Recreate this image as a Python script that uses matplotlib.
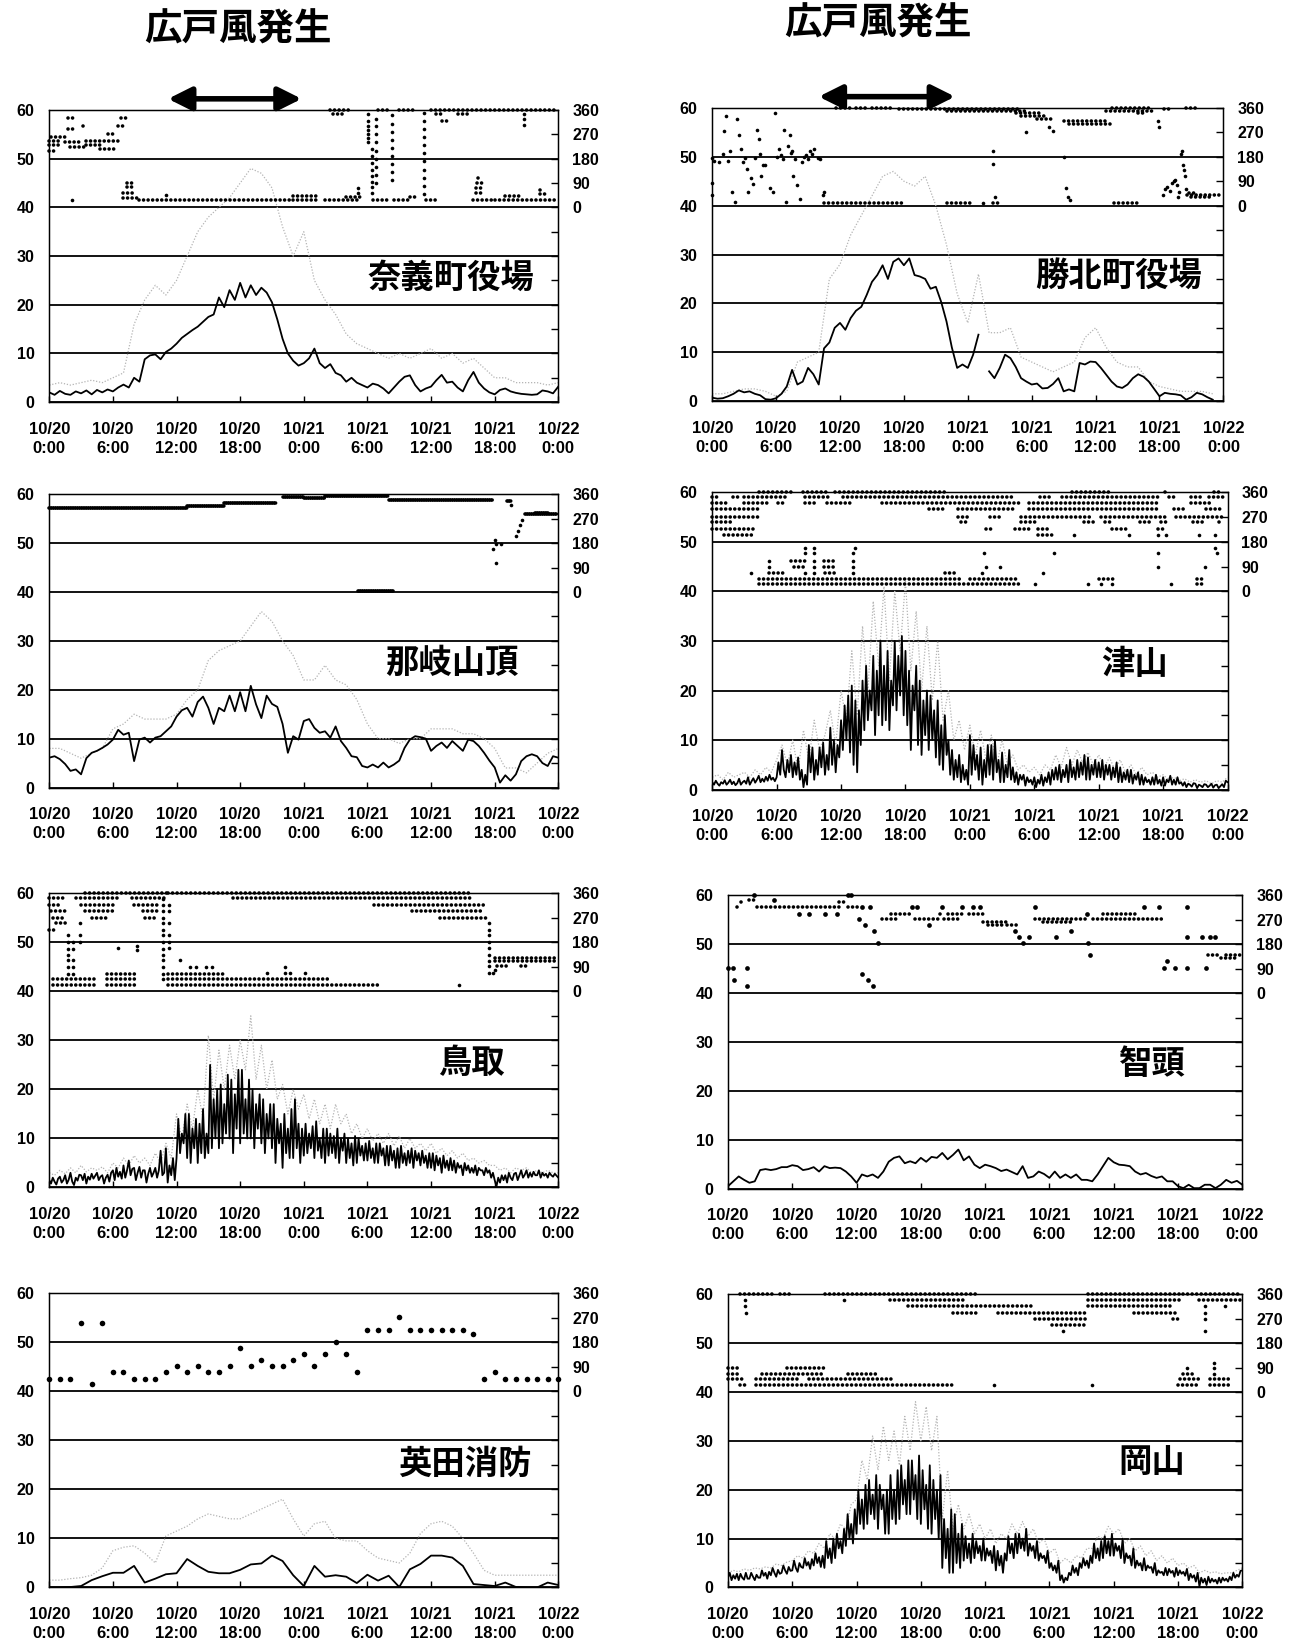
import numpy as np
import matplotlib
matplotlib.use("Agg")
import matplotlib.pyplot as plt

plt.rcParams["font.family"] = ["Noto Sans CJK JP", "DejaVu Sans"]
plt.rcParams["font.weight"] = "bold"

# time axis: hours from 10/20 0:00
TEN_MIN = np.arange(289) / 6.0
HALF_HOURS = np.arange(97) * 0.5
HOURS = np.arange(49)
TICK_HOURS = [0, 6, 12, 18, 24, 30, 36, 42, 48]
TICK_LABELS = ["10/20\n0:00", "10/20\n6:00", "10/20\n12:00", "10/20\n18:00",
               "10/21\n0:00", "10/21\n6:00", "10/21\n12:00", "10/21\n18:00",
               "10/22\n0:00"]
nan = np.nan

# ---------------- 奈義町役場 ----------------
nagi_speed = [
    2.0, 1.5, 2.3, 1.7, 1.5, 2.2, 1.8, 2.4, 1.6, 2.5, 2.0, 2.6,
    2.2, 3.0, 3.6, 3.0, 5.0, 4.2, 8.8, 9.6, 9.8, 8.8, 10.3, 11.0,
    12.0, 13.2, 14.0, 14.8, 15.5, 16.5, 17.5, 18.0, 21.5, 19.5, 23.0, 21.0,
    24.5, 21.5, 24.0, 22.0, 23.5, 22.5, 20.5, 17.0, 13.0, 10.0, 8.5, 7.5,
    8.0, 9.0, 11.0, 8.0, 7.0, 7.8, 6.0, 5.5, 4.2, 5.0, 4.0, 3.5,
    3.0, 3.8, 3.5, 2.8, 1.8, 3.0, 4.2, 5.2, 5.5, 3.5, 2.2, 2.8,
    3.2, 4.5, 5.6, 4.0, 4.2, 3.0, 2.2, 4.5, 6.2, 4.0, 2.8, 2.0,
    1.6, 2.5, 2.8, 2.2, 1.9, 1.7, 1.6, 1.5, 1.6, 2.4, 2.2, 1.8,
    3.2]
nagi_gust = [
    3.5, 4, 3.5, 4, 4.5, 4,
    5, 6, 16, 21, 24, 22,
    25, 30, 35, 38, 40, 42,
    45, 48, 47, 44, 36, 30,
    35, 25, 21, 18, 14, 12,
    11, 10, 9, 10, 9, 10,
    11, 9, 10, 8, 9, 7,
    5, 5, 4, 4, 4, 3.5,
    4]
nagi_dir_runs = [
    (0.0, 1.0, 230), (0.0, 1.2, 245), (0.2, 1.5, 260), (0.0, 0.5, 210),
    (1.5, 3.0, 240), (2.0, 3.5, 225), (1.8, 2.3, 290), (1.8, 2.3, 330),
    (3.5, 5.0, 230), (3.5, 6.5, 245), (4.8, 6.5, 215), (5.5, 6.2, 270),
    (3.2, 3.6, 300), (6.5, 7.0, 300), (6.8, 7.2, 330),
    (7.0, 8.5, 35), (7.0, 8.0, 55), (7.3, 7.8, 75), (7.3, 7.8, 90),
    (8.5, 23.0, 28), (23.0, 25.5, 42), (23.0, 25.5, 28), (26.0, 29.0, 28),
    (28.0, 29.5, 40), (26.5, 28.5, 360), (26.8, 27.2, 345), (27.6, 28.0, 345),
    (30.5, 32.0, 28), (31.0, 32.0, 360), (32.5, 34.0, 28), (33.0, 34.5, 360),
    (34.0, 34.5, 40), (35.5, 36.5, 28), (36.0, 48.0, 360), (36.5, 37.2, 345),
    (37.0, 37.5, 320), (38.5, 39.5, 345), (40.0, 42.0, 28), (40.2, 41.0, 55),
    (40.2, 41.0, 72), (40.3, 40.8, 90), (40.4, 40.7, 110), (42.0, 48.0, 28),
    (43.0, 44.5, 42), (46.3, 46.7, 50), (46.3, 46.6, 65),
]
nagi_dir_pts = [
    (2.1, 28), (11.0, 45), (29.1, 55), (29.1, 70),
    (30.1, 345), (30.1, 320), (30.1, 300), (30.1, 285), (30.1, 270), (30.1, 255),
    (30.1, 240), (30.4, 215), (30.4, 190), (30.4, 165), (30.4, 140), (30.4, 115),
    (30.4, 95), (30.4, 75), (30.4, 55),
    (30.8, 325), (30.8, 300), (30.8, 270), (30.8, 240), (30.8, 210), (30.8, 180),
    (30.8, 150), (30.8, 120), (30.8, 90),
    (32.3, 340), (32.3, 310), (32.3, 280), (32.3, 250), (32.3, 220), (32.3, 190),
    (32.3, 160), (32.3, 130), (32.3, 100),
    (35.3, 350), (35.3, 320), (35.3, 290), (35.3, 260), (35.3, 230), (35.3, 200),
    (35.3, 170), (35.3, 140), (35.3, 110), (35.3, 80), (35.3, 50),
    (44.8, 345), (44.8, 325), (44.8, 305),
]

# ---------------- 勝北町役場 ----------------
shohoku_speed = [
    0.7, 0.5, 0.6, 1.0, 1.5, 2.2, 1.8, 2.0, 1.5, 1.2, 0.4, 0.3,
    0.6, 1.5, 3.0, 6.4, 3.4, 4.0, 6.8, 5.5, 3.4, 10.8, 12.0, 15.0,
    16.0, 14.6, 17.0, 18.5, 19.3, 21.7, 24.4, 25.8, 27.8, 25.0, 28.5, 29.2,
    27.8, 29.2, 25.8, 25.5, 25.0, 23.0, 23.4, 20.3, 16.3, 11.0, 6.8, 7.5,
    6.8, 9.5, 13.6, nan, 6.1, 4.7, 6.8, 9.5, 8.8, 7.0, 4.7, 4.0,
    3.4, 3.6, 2.6, 2.7, 3.5, 4.7, 2.0, 2.4, 2.0, 7.8, 7.5, 8.1,
    8.0, 6.8, 5.4, 4.0, 3.0, 2.7, 3.4, 4.7, 5.5, 5.0, 4.0, 2.5,
    1.0, 1.7, 1.5, 1.4, 1.2, 0.3, 0.8, 1.7, 1.4, 0.8, 0.3, nan,
    nan]
shohoku_gust = [
    1.5, 1.5, 2, 2.5, 2.5, 2,
    1, 2, 8, 9, 10, 25,
    28, 34, 38, 42, 46, 47,
    45, 44, 46, 40, 32, 22,
    16, 26, 14, 14, 15, 9,
    8, 7, 6, 7, 8, 13,
    15, 11, 8, 7, 7, 4,
    3, 2.5, 2, 2, 2, 1.5,
    nan]
shohoku_dir_runs = [
    (10.5, 17.8, 8), (22.0, 24.3, 8), (26.4, 27.0, 10), (37.7, 40.3, 8),
    (11.6, 13.0, 360), (13.5, 14.5, 360), (15.0, 17.0, 358), (17.5, 29.0, 355),
    (22.0, 29.5, 350), (28.5, 31.0, 340), (29.0, 31.5, 330), (30.5, 32.0, 320),
    (33.0, 37.0, 310), (33.5, 37.5, 302), (37.0, 41.5, 350), (37.5, 41.0, 358),
    (40.0, 40.5, 340), (42.4, 43.0, 355), (44.5, 45.5, 358),
    (44.6, 48.0, 40), (45.0, 47.0, 33), (44.8, 45.5, 48),
]
shohoku_dir_pts = [
    (0.0, 175), (0.0, 85), (0.0, 40), (0.2, 165), (0.6, 160), (1.0, 190),
    (1.1, 275), (1.3, 330), (1.5, 165), (1.7, 200), (1.9, 50), (2.1, 15),
    (2.3, 320), (2.5, 260), (2.7, 210), (2.9, 160), (3.1, 175), (3.3, 135),
    (3.4, 50), (3.6, 100), (3.8, 80), (4.0, 175), (4.2, 280), (4.4, 245),
    (4.5, 190), (4.6, 110), (4.8, 150), (5.0, 150), (5.4, 65), (5.7, 50),
    (5.9, 340), (6.1, 180), (6.3, 210), (6.5, 185), (6.6, 170), (6.7, 280),
    (6.9, 15), (7.1, 220), (7.3, 260), (7.4, 195), (7.5, 200), (7.6, 110),
    (7.8, 170), (8.0, 75), (8.2, 25), (8.4, 160), (8.6, 180), (8.8, 185),
    (9.0, 170), (9.2, 200), (9.4, 190), (9.6, 210), (9.9, 175), (10.1, 170),
    (10.5, 50), (10.4, 40), (25.4, 8),
    (26.4, 200), (26.4, 155), (26.6, 30), (29.5, 270), (31.6, 290), (32.0, 275),
    (33.0, 180), (33.2, 65), (33.4, 30), (33.6, 20), (41.9, 310), (42.0, 290),
    (42.3, 40), (42.5, 60), (42.7, 70), (43.0, 55), (43.2, 85), (43.4, 90),
    (43.5, 95), (43.6, 75), (43.7, 30), (43.8, 50), (44.0, 190), (44.1, 200),
    (44.2, 150), (44.3, 130), (44.4, 110), (44.5, 60),
]

# ---------------- 那岐山頂 ----------------
nagisan_speed = [
    6.1, 6.4, 5.8, 4.8, 3.4, 3.7, 2.7, 6.0, 7.1, 7.5, 8.1, 8.8,
    9.8, 11.8, 10.8, 11.2, 5.4, 9.8, 10.2, 9.2, 10.2, 10.5, 11.5, 12.5,
    14.5, 15.8, 16.3, 14.5, 17.5, 18.6, 16.3, 13.0, 16.3, 15.6, 18.8, 15.6,
    19.5, 15.6, 20.8, 17.0, 14.2, 18.8, 17.1, 16.5, 13.0, 7.1, 10.5, 9.8,
    13.6, 14.0, 12.2, 11.2, 11.5, 10.2, 12.5, 9.5, 8.1, 6.4, 6.2, 4.4,
    4.1, 4.7, 4.1, 5.1, 4.1, 4.7, 5.5, 8.1, 9.8, 10.5, 10.3, 10.0,
    7.5, 8.5, 9.2, 8.1, 9.5, 8.5, 7.5, 9.8, 9.5, 8.5, 7.1, 5.5,
    4.1, 1.0, 2.5, 1.4, 2.7, 5.4, 6.4, 6.8, 6.4, 5.0, 4.4, 6.4,
    6.1]
nagisan_gust = [
    8, 8, 7, 6, 7, 8,
    12, 13, 15, 14, 14, 14,
    15, 18, 20, 26, 28, 29,
    30, 33, 36, 34, 30, 27,
    22, 22, 25, 22, 21, 18,
    13, 10, 10, 9, 10, 10,
    12, 12, 12, 11, 11, 10,
    8, 4, 4, 3, 5, 7,
    8]
nagisan_dir_runs = [
    (0.0, 6.0, 309), (6.0, 13.0, 311), (13.0, 16.5, 318), (16.5, 21.5, 327),
    (22.0, 24.0, 350), (24.0, 26.0, 345), (26.0, 32.0, 352), (32.0, 41.8, 338),
    (29.1, 32.5, 3), (43.2, 43.6, 335), (44.9, 48.0, 287), (45.8, 47.0, 292),
]
nagisan_dir_pts = [
    (41.8, 160), (42.0, 192), (42.1, 175), (42.1, 105), (42.6, 178), (43.5, 320),
    (44.0, 205), (44.2, 225), (44.4, 245), (44.6, 265),
]

# ---------------- 津山 (10-minute speed) ----------------
tsuyama_speed = [
    1.5, 1.0, 1.8, 1.2, 0.8, 1.5,
    1.2, 1.9, 1.0, 1.4, 2.0, 1.1,
    1.6, 0.9, 1.3, 2.2, 1.0, 1.5,
    1.8, 1.2, 2.5, 1.0, 1.7, 2.3,
    1.4, 2.0, 2.8, 1.5, 2.2, 1.6,
    2.6, 1.8, 3.0, 2.0, 2.4, 1.7,
    2.5, 5.5, 3.0, 8.0, 4.0, 2.5,
    6.0, 3.5, 7.0, 2.5, 5.5, 3.0,
    6.5, 2.0, 4.0, 0.5, 3.0, 1.0,
    9.0, 3.5, 8.5, 2.0, 6.0, 3.0,
    8.5, 4.5, 9.5, 3.0, 7.0, 4.0,
    12.5, 5.0, 10.0, 3.5, 9.0, 6.5,
    14.0, 8.0, 17.0, 10.0, 19.0, 7.5,
    21.0, 5.0, 18.0, 3.5, 16.0, 9.0,
    22.0, 12.0, 25.0, 14.0, 20.0, 16.0,
    27.0, 11.0, 24.0, 15.0, 30.0, 13.0,
    25.0, 14.0, 28.0, 12.0, 22.0, 17.0,
    30.0, 16.0, 27.0, 19.0, 31.0, 15.0,
    28.0, 13.0, 24.0, 8.0, 21.0, 16.0,
    25.0, 9.0, 22.0, 7.0, 18.0, 11.0,
    20.0, 8.0, 19.0, 10.0, 16.0, 6.5,
    18.0, 5.0, 13.0, 4.0, 15.0, 7.0,
    10.0, 3.0, 8.0, 2.0, 6.0, 2.5,
    7.0, 1.5, 5.0, 2.0, 4.0, 1.0,
    11.0, 3.0, 9.0, 4.0, 7.0, 2.0,
    8.5, 1.0, 6.0, 2.5, 9.0, 3.0,
    9.0, 2.0, 10.0, 3.5, 6.0, 1.5,
    7.5, 1.5, 5.0, 2.5, 8.0, 2.0,
    4.5, 1.5, 3.5, 1.0, 3.0, 2.0,
    3.0, 0.8, 2.5, 1.5, 2.0, 1.0,
    2.5, 0.5, 2.0, 1.2, 3.0, 0.8,
    2.5, 1.5, 3.5, 1.0, 4.0, 2.0,
    4.5, 2.0, 5.0, 1.5, 4.0, 2.5,
    5.0, 1.5, 6.0, 2.5, 4.5, 2.0,
    6.0, 2.5, 5.5, 3.0, 7.0, 2.0,
    6.5, 2.0, 5.0, 3.0, 6.0, 2.5,
    5.5, 2.5, 6.0, 2.0, 5.0, 3.0,
    5.0, 2.0, 4.5, 2.5, 5.5, 1.5,
    4.5, 1.5, 3.5, 2.0, 4.0, 1.5,
    4.0, 1.2, 3.0, 2.0, 3.5, 1.0,
    3.0, 1.0, 2.5, 1.5, 2.0, 1.0,
    2.5, 1.0, 3.0, 1.2, 2.0, 0.8,
    2.5, 0.8, 2.0, 1.5, 2.8, 1.0,
    2.0, 1.0, 2.5, 1.2, 1.5, 0.8,
    1.5, 0.5, 1.2, 1.0, 0.6, 1.3,
    1.2, 0.3, 1.0, 0.8, 0.5, 1.1,
    1.0, 0.5, 0.8, 1.2, 0.4, 0.9,
    1.0, 0.3, 0.7, 1.1, 0.5, 1.8,
    1.5]
tsuyama_gust = [
    2.5, 3.0, 2.0, 3.5, 2.5, 3.0, 3.5, 2.5, 4.0, 3.0, 4.5, 3.5,
    6.0, 9.0, 5.0, 10.0, 4.0, 12.0, 6.0, 14.0, 8.0, 11.0, 16.0, 9.0,
    20.0, 14.0, 28.0, 15.0, 33.0, 20.0, 38.0, 25.0, 41.0, 22.0, 40.0, 28.0,
    42.0, 24.0, 36.0, 20.0, 33.0, 18.0, 30.0, 14.0, 20.0, 10.0, 14.0, 8.0,
    13.0, 7.0, 12.0, 6.0, 11.0, 5.0, 10.0, 5.0, 7.0, 4.0, 5.0, 3.5,
    4.5, 3.0, 5.0, 4.0, 7.0, 4.5, 8.5, 5.0, 8.0, 5.5, 7.5, 5.0,
    7.0, 4.5, 6.5, 4.0, 6.0, 3.5, 5.0, 3.0, 4.5, 3.0, 3.5, 2.5,
    3.0, 2.0, 2.5, 1.8, 2.2, 1.5, 2.0, 1.5, 1.8, 1.2, 1.8, 1.5,
    2.5]
tsuyama_dir_runs = [
    (4.4, 7.6, 360), (8.5, 10.9, 360), (11.4, 21.7, 360), (33.5, 37.0, 360),
    (42.2, 42.5, 360), (46.7, 47.2, 360),
    (0.0, 0.4, 342), (1.9, 2.7, 342), (3.0, 7.0, 342), (8.6, 10.9, 342),
    (12.2, 28.2, 342), (30.5, 31.6, 342), (32.6, 41.5, 342), (42.5, 43.4, 342),
    (44.6, 45.8, 342), (46.3, 47.6, 342),
    (0.0, 1.5, 320), (3.0, 5.1, 320), (6.1, 6.9, 320), (8.6, 9.7, 320),
    (10.7, 13.0, 320), (15.8, 28.6, 320), (29.5, 41.5, 320), (44.6, 46.4, 320),
    (0.0, 4.4, 298), (20.2, 21.7, 298), (22.9, 28.2, 298), (29.5, 41.5, 298),
    (43.0, 44.1, 298), (46.0, 47.6, 298),
    (0.0, 4.4, 271), (22.9, 24.0, 271), (25.9, 27.0, 271), (28.8, 35.4, 271),
    (36.2, 42.3, 271), (43.2, 47.6, 271),
    (0.0, 1.9, 252), (23.2, 23.6, 252), (28.8, 30.3, 252), (34.6, 35.7, 252),
    (36.6, 37.2, 252), (39.8, 40.8, 252), (41.8, 42.5, 252), (44.8, 45.8, 252),
    (47.2, 47.6, 252),
    (0.0, 4.0, 228), (25.5, 26.3, 228), (28.2, 29.9, 228), (30.3, 31.6, 228),
    (37.2, 38.5, 228), (41.5, 42.3, 228),
    (1.1, 3.8, 206), (30.3, 31.8, 206),
    (4.4, 23.2, 46), (24.0, 28.6, 46), (36.0, 37.3, 46), (45.2, 45.8, 46),
    (4.4, 28.6, 27), (45.2, 45.8, 27),
    (5.3, 6.7, 67), (10.5, 11.4, 67), (21.7, 22.9, 67),
    (7.6, 8.6, 89), (10.4, 11.4, 89), (7.3, 8.6, 111), (10.4, 11.4, 111),
]
tsuyama_dir_pts = [
    (3.6, 67), (8.6, 67), (9.5, 67), (13.1, 67), (25.1, 67), (30.8, 67),
    (5.3, 89), (9.5, 89), (13.1, 89), (25.5, 89), (26.8, 89), (41.5, 89), (45.9, 89),
    (5.3, 111), (9.5, 111), (13.1, 111),
    (8.6, 138), (9.5, 138), (13.1, 138), (25.3, 138), (31.8, 138), (41.5, 138), (47.0, 138),
    (8.6, 159), (9.5, 159), (13.3, 159), (46.8, 159),
    (30.1, 27), (35.0, 27), (36.2, 27), (37.2, 27), (42.7, 27),
    (33.7, 206), (38.8, 206), (41.5, 206), (42.3, 206), (45.3, 206), (46.8, 206),
]

# ---------------- 鳥取 (10-minute speed) ----------------
tottori_speed = [
    1.5, 0.8, 2.0, 1.2, 0.6, 1.8,
    2.2, 1.0, 1.5, 2.5, 0.8, 1.6,
    3.0, 1.2, 0.5, 2.0, 1.4, 2.6,
    2.5, 1.5, 2.8, 0.8, 2.2, 1.6,
    2.8, 1.8, 2.4, 3.0, 1.5, 2.2,
    2.5, 0.8, 2.0, 2.6, 1.2, 3.0,
    3.5, 1.5, 4.0, 2.2, 3.2, 1.8,
    4.5, 2.0, 3.5, 5.5, 2.5, 3.8,
    4.0, 1.5, 3.0, 4.2, 2.0, 3.5,
    3.5, 1.0, 2.8, 4.0, 2.2, 3.0,
    4.0, 2.0, 3.5, 7.5, 2.5, 3.0,
    8.0, 1.0, 4.5, 2.5, 6.0, 1.5,
    6.0, 14.0, 7.0, 11.0, 9.0, 15.0,
    6.0, 15.0, 5.0, 12.0, 8.0, 14.0,
    5.0, 13.0, 7.0, 16.0, 6.0, 11.0,
    7.0, 25.0, 8.0, 18.0, 10.0, 20.0,
    8.0, 21.0, 9.0, 17.0, 11.0, 23.0,
    10.0, 22.0, 7.0, 19.0, 12.0, 24.0,
    9.0, 24.0, 11.0, 18.0, 10.0, 22.0,
    10.0, 20.0, 8.0, 17.0, 12.0, 19.0,
    9.0, 18.0, 7.0, 15.0, 10.0, 17.0,
    8.0, 17.0, 5.0, 14.0, 9.0, 13.0,
    4.0, 15.0, 7.0, 12.0, 6.0, 16.0,
    6.0, 18.0, 8.0, 13.0, 5.0, 12.0,
    6.5, 13.0, 7.0, 11.0, 8.0, 12.5,
    6.0, 13.5, 7.5, 10.0, 6.0, 12.0,
    5.0, 12.0, 6.5, 11.0, 7.0, 10.5,
    6.0, 12.0, 5.0, 10.0, 7.5, 11.0,
    5.0, 10.0, 6.0, 9.0, 4.5, 10.5,
    5.0, 10.0, 6.5, 8.5, 5.5, 9.0,
    5.5, 9.5, 6.0, 8.0, 5.0, 9.0,
    5.0, 9.0, 6.5, 8.0, 4.5, 8.5,
    4.5, 8.5, 5.5, 7.5, 4.0, 8.0,
    4.0, 8.5, 5.0, 7.0, 4.5, 7.5,
    5.0, 8.0, 4.0, 7.5, 5.5, 7.0,
    4.5, 7.5, 5.0, 6.5, 4.0, 7.0,
    4.0, 7.0, 3.5, 6.5, 4.5, 6.0,
    3.0, 6.5, 4.0, 5.5, 3.5, 6.0,
    3.5, 5.5, 3.0, 5.0, 4.0, 4.5,
    2.5, 5.0, 3.5, 4.5, 3.0, 4.0,
    3.0, 4.5, 2.5, 4.0, 3.5, 3.5,
    2.5, 4.0, 3.0, 3.5, 2.0, 3.0,
    1.5, 0.2, 2.0, 1.0, 2.5, 1.5,
    2.5, 1.0, 3.0, 2.0, 1.5, 2.8,
    3.0, 1.5, 2.5, 3.5, 2.0, 2.6,
    3.5, 2.0, 3.0, 2.2, 3.2, 2.5,
    2.5, 3.5, 2.0, 3.0, 2.4, 2.8,
    2.0, 3.0, 2.5, 2.2, 2.8, 2.4,
    2.0]
tottori_gust = [
    3.0, 2.5, 3.5, 2.8, 4.0, 3.0, 4.5, 3.2, 4.0, 3.5, 4.2, 3.0,
    5.0, 4.0, 6.0, 4.5, 6.5, 5.0, 6.0, 4.5, 7.0, 5.0, 9.0, 6.0,
    15.0, 10.0, 17.0, 12.0, 20.0, 14.0, 31.0, 18.0, 28.0, 20.0, 29.0, 22.0,
    30.0, 24.0, 35.0, 22.0, 29.0, 20.0, 26.0, 18.0, 21.0, 15.0, 20.0, 16.0,
    19.0, 14.0, 18.0, 13.0, 17.0, 12.0, 17.0, 13.0, 15.0, 11.0, 13.0, 10.0,
    12.0, 9.5, 11.0, 9.0, 11.0, 8.5, 10.5, 8.0, 10.0, 8.0, 9.0, 7.5,
    9.0, 7.0, 8.0, 6.5, 7.5, 6.0, 7.0, 5.5, 6.0, 5.0, 5.5, 4.5,
    4.5, 3.5, 4.0, 3.0, 4.0, 3.5, 4.0, 3.0, 3.5, 3.0, 3.5, 3.0,
    3.0]
tottori_dir_runs = [
    (0.0, 1.6, 342), (0.0, 1.0, 317), (0.2, 1.6, 295), (0.4, 1.4, 270),
    (0.6, 1.6, 249), (0.0, 0.8, 225), (0.4, 4.3, 44), (0.4, 4.3, 22),
    (3.4, 7.2, 360), (2.5, 6.5, 342), (3.0, 6.0, 317), (3.4, 6.0, 295),
    (4.0, 5.5, 270), (5.4, 8.3, 65), (5.4, 8.3, 44), (5.4, 8.3, 22),
    (7.6, 11.2, 360), (7.8, 11.2, 342), (8.0, 10.5, 317), (8.8, 10.3, 295),
    (9.0, 10.0, 270), (11.2, 39.6, 360), (17.3, 40.0, 342), (30.6, 41.0, 317),
    (34.2, 41.0, 295), (36.8, 41.4, 270), (11.2, 16.6, 65), (11.2, 26.3, 44),
    (11.2, 31.0, 22), (42.0, 48.0, 124), (42.0, 48.0, 112), (42.2, 43.2, 92),
    (44.5, 45.2, 92),
]
tottori_dir_pts = [
    (1.8, 206), (1.8, 182), (1.8, 157), (1.8, 135), (1.8, 114), (1.8, 90), (1.8, 65),
    (2.2, 182), (2.2, 157), (2.2, 114), (2.2, 90), (2.2, 65),
    (2.9, 249), (2.9, 206), (2.9, 182),
    (6.5, 160), (8.3, 165), (8.3, 150),
    (10.7, 340), (10.7, 317), (10.7, 295), (10.7, 270), (10.7, 249), (10.7, 225),
    (10.7, 206), (10.7, 182), (10.7, 157), (10.7, 135), (10.7, 114), (10.7, 90),
    (10.7, 65), (10.7, 44),
    (11.3, 317), (11.3, 295), (11.3, 249), (11.3, 206), (11.3, 182), (11.3, 160),
    (12.3, 114), (13.3, 90), (13.8, 90), (14.8, 90), (15.3, 90), (20.5, 67),
    (22.2, 90), (22.2, 67), (22.7, 67), (24.1, 67), (38.6, 22),
    (41.5, 249), (41.5, 225), (41.5, 206), (41.5, 182), (41.5, 160), (41.5, 135),
    (41.5, 112), (41.5, 92), (41.5, 67), (41.8, 67), (42.0, 80),
]

# ---------------- 智頭 ----------------
chizu_speed = [
    0.5, 1.5, 2.5, 1.8, 1.2, 1.5, 3.8, 4.0, 3.8, 4.0, 4.4, 4.4,
    4.8, 4.6, 3.8, 4.0, 4.4, 3.5, 4.6, 4.2, 4.3, 4.2, 3.5, 2.5,
    1.2, 2.9, 2.5, 2.9, 2.2, 3.5, 5.5, 6.3, 6.6, 5.2, 5.6, 5.2,
    6.3, 5.5, 6.5, 6.3, 7.3, 6.0, 6.9, 8.0, 5.8, 6.6, 4.9, 4.2,
    4.9, 4.6, 4.2, 3.6, 3.9, 3.4, 2.9, 4.6, 2.2, 2.5, 3.5, 3.0,
    2.2, 3.5, 2.2, 2.9, 2.2, 2.9, 1.8, 1.8, 1.5, 2.9, 4.6, 6.3,
    5.4, 4.9, 4.8, 4.6, 3.5, 2.9, 3.2, 2.6, 2.2, 2.5, 1.5, 1.5,
    0.5, 0.1, 0.8, 0.1, 0.1, 0.8, 0.8, 0.1, 0.8, 1.8, 1.2, 1.6,
    0.8]
chizu_dir_runs = [
    (0.8, 1.2, 318), (1.2, 1.6, 335), (2.0, 2.4, 342), (2.7, 10.4, 318),
    (10.4, 11.0, 335), (11.2, 12.2, 318), (14.4, 16.0, 272), (15.2, 17.2, 293),
    (17.5, 20.0, 272), (19.8, 20.2, 293), (20.2, 21.5, 272), (20.5, 22.0, 293),
    (22.5, 23.8, 293), (23.8, 26.0, 262), (24.3, 25.8, 251), (26.0, 27.0, 251),
    (28.7, 33.7, 272), (29.4, 32.0, 262), (34.1, 40.6, 272), (35.0, 38.0, 290),
    (44.8, 46.0, 139), (46.0, 47.5, 128), (46.5, 48.0, 139),
]
chizu_dir_pts = [
    (0.0, 91), (0.5, 91), (0.6, 48), (1.8, 91), (1.8, 27), (2.4, 360),
    (4.3, 342), (6.6, 293), (7.6, 293), (9.1, 293), (10.2, 293), (11.5, 360),
    (11.2, 360), (12.2, 272), (12.5, 318), (12.8, 251), (13.3, 318), (13.6, 227),
    (14.0, 183), (12.5, 69), (13.1, 48), (13.5, 27), (17.2, 318), (17.6, 318),
    (18.8, 251), (20.0, 318), (21.8, 318), (22.9, 318), (23.5, 318), (26.8, 227),
    (27.2, 205), (27.5, 183), (28.1, 205), (28.7, 318), (30.6, 205), (32.0, 227),
    (33.5, 293), (33.6, 183), (33.8, 139), (38.8, 318), (40.2, 318), (40.7, 91),
    (41.0, 118), (41.7, 91), (42.8, 318), (42.8, 205), (42.8, 91), (44.2, 205),
    (45.0, 205), (45.5, 205), (44.6, 91),
]

# ---------------- 英田消防 (hourly) ----------------
aida_speed = [
    0.0, 0.0, 0.1, 0.3, 1.5, 2.3,
    3.0, 3.0, 4.4, 1.0, 1.8, 2.7,
    2.9, 5.8, 4.4, 3.2, 2.9, 2.9,
    3.6, 4.7, 4.9, 6.5, 5.4, 2.5,
    0.3, 4.4, 2.2, 2.5, 2.2, 0.9,
    2.6, 1.4, 2.4, 0.1, 3.7, 4.8,
    6.5, 6.5, 6.1, 4.4, 0.7, 0.5,
    0.3, 1.0, 0.1, 0.0, 0.0, 1.0,
    0.5]
aida_gust = [
    1.5, 1.5, 1.8, 2, 2.5, 4,
    7.5, 8.2, 8.5, 7, 5, 10.5,
    11.5, 12.5, 14, 15, 14.5, 14,
    14, 15, 16, 17, 18, 14,
    10.5, 13, 13.5, 10, 9.5, 9.5,
    7.5, 6, 5.5, 5, 7, 11,
    13, 13.5, 12.5, 10, 7, 3.5,
    2.5, 2.5, 2.5, 2.5, 2.5, 2.5,
    2.5]
aida_dir = [
    46, 46, 46, 250, 28, 250,
    71, 71, 46, 46, 46, 71,
    92, 71, 92, 71, 71, 92,
    159, 92, 114, 92, 92, 114,
    136, 92, 136, 181, 136, 71,
    226, 226, 226, 272, 226, 226,
    226, 226, 226, 226, 209, 46,
    71, 46, 46, 46, 46, 46,
    46]

# ---------------- 岡山 (10-minute speed) ----------------
okayama_speed = [
    2.0, 3.0, 1.5, 2.5, 1.8, 2.8,
    1.5, 2.8, 2.0, 1.6, 3.0, 1.8,
    1.8, 3.0, 2.2, 1.5, 2.6, 2.0,
    2.0, 3.5, 2.4, 3.0, 1.8, 3.2,
    2.5, 4.0, 3.0, 2.2, 3.6, 2.8,
    3.0, 4.5, 3.5, 2.8, 4.2, 3.4,
    3.5, 5.5, 4.0, 3.2, 5.0, 4.2,
    4.0, 6.0, 4.5, 5.2, 3.8, 5.8,
    4.5, 7.0, 5.0, 6.2, 4.2, 6.5,
    4.0, 9.5, 6.0, 8.0, 5.0, 10.0,
    6.0, 11.0, 8.0, 9.5, 7.0, 12.0,
    8.5, 15.0, 10.0, 13.0, 9.0, 16.0,
    11.0, 20.0, 13.0, 18.0, 12.0, 21.0,
    13.0, 22.0, 15.0, 19.0, 14.0, 23.0,
    12.0, 21.0, 16.0, 19.0, 11.0, 20.0,
    11.0, 23.0, 14.0, 20.0, 13.0, 24.0,
    14.0, 25.0, 17.0, 22.0, 15.0, 26.0,
    15.0, 26.0, 18.0, 23.0, 14.0, 27.0,
    13.0, 24.0, 16.0, 21.0, 12.0, 25.0,
    11.0, 22.0, 14.0, 20.0, 10.0, 23.0,
    4.0, 14.0, 6.0, 12.0, 3.0, 16.0,
    3.0, 15.0, 5.0, 11.0, 4.0, 13.0,
    5.5, 10.5, 6.0, 9.0, 5.0, 11.0,
    6.0, 9.5, 7.0, 8.5, 5.5, 10.0,
    5.5, 8.0, 6.5, 7.5, 5.0, 8.5,
    3.5, 7.5, 4.5, 6.5, 3.0, 7.0,
    5.5, 10.5, 7.0, 9.0, 6.0, 11.0,
    7.0, 11.0, 8.0, 10.0, 7.5, 12.0,
    6.5, 9.0, 7.5, 8.5, 6.0, 9.5,
    5.5, 7.0, 6.0, 6.5, 5.0, 7.5,
    4.0, 5.0, 3.5, 4.5, 3.0, 5.5,
    1.5, 2.5, 1.0, 2.0, 1.5, 3.0,
    2.5, 4.5, 3.0, 4.0, 2.5, 5.0,
    4.0, 6.0, 4.5, 5.5, 4.0, 6.5,
    5.0, 9.0, 6.0, 8.0, 5.5, 9.5,
    6.0, 10.5, 7.0, 9.5, 6.5, 11.0,
    6.5, 9.0, 7.5, 8.5, 6.0, 10.0,
    5.0, 7.0, 6.0, 6.5, 4.5, 8.0,
    4.0, 5.5, 4.5, 5.0, 3.5, 6.0,
    3.5, 4.5, 4.0, 4.2, 3.0, 5.0,
    2.5, 3.5, 3.0, 3.2, 2.5, 4.0,
    2.5, 3.8, 3.0, 3.4, 2.2, 4.0,
    2.5, 3.5, 2.8, 3.2, 2.4, 3.8,
    1.5, 2.8, 2.0, 2.5, 1.2, 3.0,
    0.2, 2.0, 1.0, 1.8, 0.5, 2.2,
    1.0, 1.8, 1.2, 1.6, 0.8, 2.0,
    1.0, 2.0, 1.4, 1.8, 1.2, 2.2,
    1.5, 3.0, 2.0, 2.6, 2.2, 3.4,
    3.5]
okayama_gust = [
    3.0, 3.5, 3.2, 3.8, 3.5, 4.0, 3.8, 4.2, 4.0, 4.8, 4.5, 5.2,
    5.5, 6.5, 6.0, 7.5, 7.0, 9.0, 8.0, 11.0, 10.0, 13.0, 12.0, 17.0,
    18.0, 26.0, 22.0, 31.0, 24.0, 33.0, 26.0, 32.0, 25.0, 35.0, 28.0, 38.0,
    30.0, 37.0, 28.0, 35.0, 14.0, 24.0, 12.0, 17.0, 12.0, 15.0, 11.0, 13.0,
    10.0, 12.0, 9.0, 11.0, 10.0, 13.0, 11.0, 13.5, 10.5, 12.0, 9.0, 10.0,
    7.0, 8.0, 5.0, 6.0, 5.0, 6.5, 6.0, 8.0, 8.0, 10.5, 10.0, 12.5,
    11.0, 12.0, 9.0, 10.0, 7.5, 8.5, 6.5, 7.5, 5.5, 6.5, 5.0, 6.0,
    4.5, 5.0, 4.0, 4.5, 3.0, 3.5, 3.0, 3.2, 2.8, 3.0, 3.0, 3.5,
    4.0]
okayama_dir_runs = [
    (0.0, 0.9, 88), (5.5, 9.1, 88), (0.0, 1.1, 67), (3.2, 9.1, 67),
    (11.2, 14.1, 67), (0.0, 1.5, 46), (2.6, 6.4, 46), (7.6, 15.4, 46),
    (1.1, 1.8, 24), (2.6, 21.0, 24),
    (1.1, 4.2, 360), (4.9, 6.0, 360), (9.1, 23.3, 360), (33.6, 42.3, 360),
    (42.5, 48.0, 360), (15.1, 22.2, 339), (33.6, 42.3, 339), (44.0, 47.8, 339),
    (16.8, 28.3, 315), (33.6, 41.3, 315), (21.0, 23.3, 291), (25.2, 33.6, 291),
    (37.9, 42.1, 291), (28.7, 33.6, 270), (41.5, 42.1, 270), (30.2, 33.6, 248),
    (42.0, 44.0, 24), (42.2, 44.0, 46), (42.5, 43.5, 67), (45.0, 47.0, 46),
    (45.0, 47.0, 24),
]
okayama_dir_pts = [
    (1.6, 339), (1.6, 315), (1.7, 291), (10.8, 339), (24.8, 24), (34.0, 24),
    (31.3, 224), (42.8, 88), (44.5, 315), (44.5, 291), (44.5, 270), (44.5, 224),
    (45.4, 67), (45.4, 88), (45.4, 105), (46.4, 315),
]


def draw_panel(fig, rect, name, name_pos, speed_hours, speed,
               gust_hours, gust, dir_runs, dir_pts,
               dot_size=2.6, run_gap=1.25, arrow=None):
    ax = fig.add_axes(rect)
    ax.set_xlim(0, 48)
    ax.set_ylim(0, 60)
    ax.set_yticks(range(0, 61, 10))
    ax.grid(axis="y", color="black", lw=1.3)
    ax.set_axisbelow(True)

    # gust (light dotted) under the mean wind speed (black)
    if gust is not None:
        ax.plot(gust_hours, gust, color="#b4b4b4", lw=0.9,
                linestyle=(0, (1, 1.4)), zorder=2)
    ax.plot(speed_hours, speed, color="black", lw=1.3, zorder=3)

    ax.set_xticks(TICK_HOURS)
    ax.set_xticklabels(TICK_LABELS, linespacing=1.35)
    ax.tick_params(axis="x", direction="in", length=4, width=1, pad=14,
                   labelsize=12, labelfontfamily="Liberation Sans")
    ax.tick_params(axis="y", length=0, pad=10.5, labelsize=11.5,
                   labelfontfamily="Liberation Sans")
    for sp in ax.spines.values():
        sp.set_linewidth(1.0)

    # wind direction: 0-360 deg shown in the 40-60 band
    ax2 = ax.twinx()
    ax2.set_ylim(-720, 360)
    ticks = np.arange(-720, 361, 90)
    ax2.set_yticks(ticks)
    ax2.set_yticklabels([str(v) if v >= 0 else "" for v in ticks])
    ax2.tick_params(axis="y", direction="in", length=5, width=1, pad=10,
                    labelsize=11.5, labelfontfamily="Liberation Sans")
    for t0, t1, deg in dir_runs:
        ax2.plot([t0, t1], [deg, deg], color="black", lw=2.6,
                 linestyle=(0, (0.01, run_gap)), dash_capstyle="round",
                 clip_on=False)
    if dir_pts:
        t, d = zip(*dir_pts)
        ax2.plot(t, d, "o", color="black", ms=dot_size, mew=0, clip_on=False)

    ax.text(name_pos[0], name_pos[1], name, ha="right", va="center",
            fontsize=24, fontweight="bold", zorder=5)

    if arrow is not None:
        ax.annotate("", xy=(arrow[1], 62.3), xytext=(arrow[0], 62.3),
                    xycoords="data", annotation_clip=False,
                    arrowprops=dict(arrowstyle="<|-|>,head_length=0.7,head_width=0.35",
                                    lw=4, color="black", shrinkA=0, shrinkB=0,
                                    mutation_scale=20))
    return ax


fig = plt.figure(figsize=(13.03, 16.42), dpi=100)

fig.text(0.1825, 0.982, "広戸風発生", ha="center", va="center",
         fontsize=27, fontweight="bold")
fig.text(0.6736, 0.986, "広戸風発生", ha="center", va="center",
         fontsize=27, fontweight="bold")

draw_panel(fig, [0.0378, 0.7551, 0.3907, 0.1779], "奈義町役場", (45.7, 25.5),
           HALF_HOURS, nagi_speed, HOURS, nagi_gust,
           nagi_dir_runs, nagi_dir_pts, arrow=(11.2, 23.8))
draw_panel(fig, [0.5466, 0.7557, 0.3923, 0.1786], "勝北町役場", (46.0, 25.5),
           HALF_HOURS, shohoku_speed, HOURS, shohoku_gust,
           shohoku_dir_runs, shohoku_dir_pts, arrow=(10.0, 22.8))
draw_panel(fig, [0.0378, 0.5204, 0.3907, 0.1786], "那岐山頂", (44.3, 25.3),
           HALF_HOURS, nagisan_speed, HOURS, nagisan_gust,
           nagisan_dir_runs, nagisan_dir_pts, run_gap=0.5)
draw_panel(fig, [0.5466, 0.5191, 0.3955, 0.1811], "津山", (42.4, 25.3),
           TEN_MIN, tsuyama_speed, HALF_HOURS, tsuyama_gust,
           tsuyama_dir_runs, tsuyama_dir_pts)
draw_panel(fig, [0.0378, 0.2768, 0.3907, 0.1792], "鳥取", (43.0, 25.3),
           TEN_MIN, tottori_speed, HALF_HOURS, tottori_gust,
           tottori_dir_runs, tottori_dir_pts)
draw_panel(fig, [0.5587, 0.2761, 0.3947, 0.1786], "智頭", (42.7, 25.3),
           HALF_HOURS, chizu_speed, None, None,
           chizu_dir_runs, chizu_dir_pts, dot_size=3.4)
draw_panel(fig, [0.0378, 0.0332, 0.3907, 0.1792], "英田消防", (45.5, 25.2),
           HOURS, aida_speed, HOURS, aida_gust,
           [], list(zip(HOURS, aida_dir)), dot_size=4.0)
draw_panel(fig, [0.5587, 0.0332, 0.3947, 0.1786], "岡山", (42.7, 25.3),
           TEN_MIN, okayama_speed, HALF_HOURS, okayama_gust,
           okayama_dir_runs, okayama_dir_pts)

fig.savefig("out.png", dpi=100)
plt.close(fig)
